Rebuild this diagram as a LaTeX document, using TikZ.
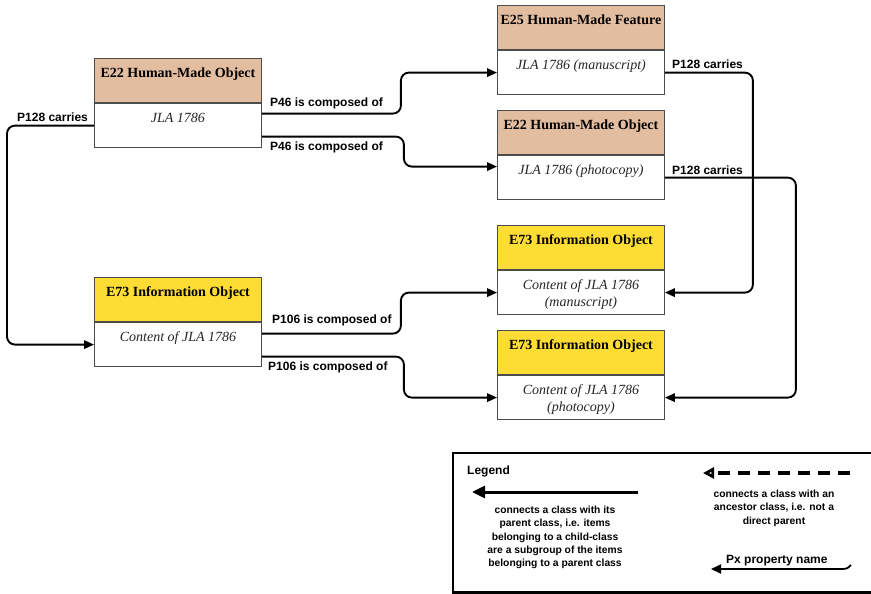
\documentclass[tikz,border=0pt]{standalone}
\usepackage{fontspec}
\setmainfont{Liberation Serif}
\newfontfamily\labelfont{Liberation Sans}
\usetikzlibrary{arrows.meta,calc}
\definecolor{hdrbrown}{RGB}{227,189,160}
\definecolor{hdryellow}{RGB}{253,220,52}
\begin{document}
\begin{tikzpicture}[x=1pt,y=-1pt,
  hdr/.style={draw=black!70, line width=0.9pt, minimum width=167pt, minimum height=44pt, inner sep=0pt, anchor=north west},
  bdy/.style={draw=black!70, line width=0.9pt, fill=white, minimum width=167pt, minimum height=44.5pt, inner sep=0pt, anchor=north},
  htext/.style={font=\fontsize{14}{17}\selectfont\bfseries, inner sep=0pt, anchor=north},
  btext/.style={font=\fontsize{14}{17}\selectfont\itshape, inner sep=0pt, anchor=north, align=center, text=black!85},
  rel/.style={line width=1.9pt, rounded corners=8pt, -{Triangle[length=10pt,width=8.5pt]}},
  rlabel/.style={font=\labelfont\bfseries\fontsize{12}{14}\selectfont, inner sep=0pt},
  ltext/.style={font=\labelfont\bfseries\fontsize{10.3}{13.2}\selectfont, inner sep=0pt, align=center},
]
\useasboundingbox (0,0) rectangle (871,594);

% class boxes: coloured header with the class name, white body with the instance
\node[hdr, fill=hdrbrown] (Ah) at (94,58) {};
\node[bdy] (Ab) at (Ah.south) {};
\node[htext] (Aht) at ([yshift=-9.5pt]Ah.north) {E22 Human-Made Object};
\node[btext] (Abt) at ([yshift=-10pt]Ab.north) {JLA 1786};

\node[hdr, fill=hdrbrown] (Bh) at (497,5) {};
\node[bdy] (Bb) at (Bh.south) {};
\node[htext] (Bht) at ([yshift=-9.5pt]Bh.north) {E25 Human-Made Feature};
\node[btext] (Bbt) at ([yshift=-10pt]Bb.north) {JLA 1786 (manuscript)};

\node[hdr, fill=hdrbrown] (Ch) at (497,110) {};
\node[bdy] (Cb) at (Ch.south) {};
\node[htext] (Cht) at ([yshift=-9.5pt]Ch.north) {E22 Human-Made Object};
\node[btext] (Cbt) at ([yshift=-10pt]Cb.north) {JLA 1786 (photocopy)};

\node[hdr, fill=hdryellow] (Dh) at (94,277) {};
\node[bdy] (Db) at (Dh.south) {};
\node[htext] (Dht) at ([yshift=-9.5pt]Dh.north) {E73 Information Object};
\node[btext] (Dbt) at ([yshift=-10pt]Db.north) {Content of JLA 1786};

\node[hdr, fill=hdryellow] (Eh) at (497,225) {};
\node[bdy] (Eb) at (Eh.south) {};
\node[htext] (Eht) at ([yshift=-9.5pt]Eh.north) {E73 Information Object};
\node[btext] (Ebt) at ([yshift=-10pt]Eb.north) {Content of JLA 1786\\(manuscript)};

\node[hdr, fill=hdryellow] (Fh) at (497,330) {};
\node[bdy] (Fb) at (Fh.south) {};
\node[htext] (Fht) at ([yshift=-9.5pt]Fh.north) {E73 Information Object};
\node[btext] (Fbt) at ([yshift=-10pt]Fb.north) {Content of JLA 1786\\(photocopy)};

% properties
\draw[rel] ([yshift=12pt]Ab.east) -- ++(139,0) |- (Bb.west);
\draw[rel] ([yshift=-11pt]Ab.east) -- ++(142,0) |- ([yshift=11pt]Cb.west);
\draw[rel] (Ab.west) -- ++(-87,0) |- (Db.west);
\draw[rel] (Bb.east) -- ++(88,0) |- (Eb.east);
\draw[rel] (Cb.east) -- ++(131,0) |- (Fb.east);
\draw[rel] ([yshift=11pt]Db.east) -- ++(139,0) |- (Eb.west);
\draw[rel] ([yshift=-12pt]Db.east) -- ++(142,0) |- (Fb.west);

\node[rlabel, anchor=west] (l1) at (270,103) {P46 is composed of};
\node[rlabel, anchor=west] (l2) at (270,147) {P46 is composed of};
\node[rlabel, anchor=west] (l3) at (17,117) {P128 carries};
\node[rlabel, anchor=west] (l4) at (672,64) {P128 carries};
\node[rlabel, anchor=west] (l5) at (672,170) {P128 carries};
\node[rlabel, anchor=west] (l6) at (272,320) {P106 is composed of};
\node[rlabel, anchor=west] (l7) at (268,367) {P106 is composed of};

% legend
\draw[line width=2.5pt] (453,453) rectangle (875,592.5);
\node[rlabel, anchor=west] (lg) at (467,471) {Legend};

\coordinate (s1a) at (638,492);
\coordinate (s1b) at (472,492);
\draw[line width=3pt, -{Triangle[length=13pt,width=12pt]}] (s1a) -- (s1b);
\node[ltext, anchor=north] (lt1) at (555,506) {connects a class with its\\parent class, i.e. items\\belonging to a child-class\\are a subgroup of the items\\belonging to a parent class};

\coordinate (s2a) at (850,473);
\coordinate (s2b) at (703,473);
\draw[line width=3.5pt, dash pattern=on 12pt off 8pt, -{Triangle[open,length=11pt,width=11pt]}] (s2a) -- (s2b);
\node[ltext, anchor=north] (lt2) at (774,490) {connects a class with an\\ancestor class, i.e. not a\\direct parent};

\coordinate (s3a) at (851,565);
\coordinate (s3m) at (838,569);
\coordinate (s3b) at (711,569);
\draw[line width=1.8pt, -{Triangle[length=10pt,width=9pt]}] (s3a) .. controls (847,569) .. (s3m) -- (s3b);
\node[rlabel, anchor=west] (px) at (726,561) {Px property name};
\end{tikzpicture}
\end{document}
